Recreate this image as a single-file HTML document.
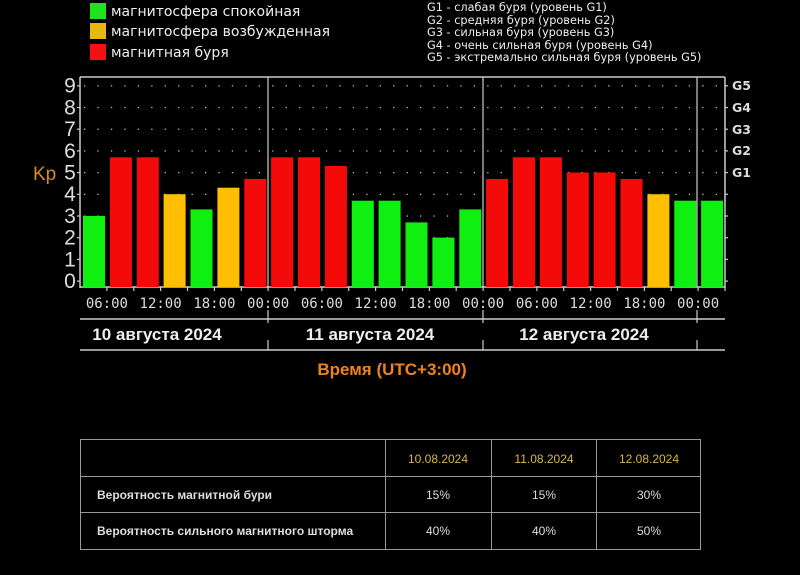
<!DOCTYPE html>
<html><head><meta charset="utf-8"><style>
html,body{margin:0;padding:0;background:#000;width:800px;height:575px;overflow:hidden}
svg{display:block}
</style></head><body>
<svg width="800" height="575" xmlns="http://www.w3.org/2000/svg" font-family="Liberation Sans, DejaVu Sans, sans-serif">
<rect width="800" height="575" fill="#000"/>
<!-- legend -->
<rect x="90" y="3" width="16" height="16" fill="#1ee41e"/>
<rect x="90" y="23" width="16" height="16" fill="#e8b90c"/>
<rect x="90" y="44" width="16" height="16" fill="#f21010"/>
<g fill="#eee" font-size="14" font-family="DejaVu Sans, sans-serif">
<text x="111" y="16">магнитосфера спокойная</text>
<text x="111" y="36">магнитосфера возбужденная</text>
<text x="111" y="57">магнитная буря</text>
</g>
<g fill="#eee" font-size="11.3" font-family="DejaVu Sans, sans-serif">
<text x="427" y="11">G1 - слабая буря (уровень G1)</text>
<text x="427" y="24">G2 - средняя буря (уровень G2)</text>
<text x="427" y="36">G3 - сильная буря (уровень G3)</text>
<text x="427" y="49">G4 - очень сильная буря (уровень G4)</text>
<text x="427" y="61">G5 - экстремально сильная буря (уровень G5)</text>
</g>
<!-- plot frame -->
<line x1="80" y1="77" x2="725" y2="77" stroke="#ccc" stroke-width="1.5"/>
<line x1="80" y1="77" x2="80" y2="288" stroke="#ccc" stroke-width="1.5"/>
<line x1="725" y1="77" x2="725" y2="288" stroke="#ccc" stroke-width="1.5"/>
<line x1="80" y1="287" x2="725" y2="287" stroke="#ccc" stroke-width="1.5"/>
<line x1="268" y1="77" x2="268" y2="287" stroke="#ccc" stroke-width="1.2"/>
<line x1="483" y1="77" x2="483" y2="287" stroke="#ccc" stroke-width="1.2"/>
<line x1="697" y1="77" x2="697" y2="287" stroke="#ccc" stroke-width="1.2"/>
<g id="dots" fill="#bbb"></g>
<g id="bars"></g>
<g id="yl" fill="#ddd" font-size="21" text-anchor="middle"></g>
<text x="33" y="180" fill="#d98a1e" font-size="19">Kp</text>
<g fill="#ddd" font-size="12.5" font-weight="bold" font-family="DejaVu Sans, sans-serif">
<text x="732" y="90">G5</text><text x="732" y="112">G4</text><text x="732" y="134">G3</text><text x="732" y="155">G2</text><text x="732" y="177">G1</text>
</g>
<g id="xt" fill="#ddd" font-size="14" font-family="DejaVu Sans Mono, monospace" text-anchor="middle"></g>
<!-- date row -->
<line x1="80" y1="319" x2="725" y2="319" stroke="#ccc" stroke-width="1.5"/>
<line x1="80" y1="350" x2="725" y2="350" stroke="#ccc" stroke-width="1.5"/>
<g stroke="#ccc" stroke-width="1.2">
<line x1="268" y1="310" x2="268" y2="323"/><line x1="268" y1="340" x2="268" y2="350"/>
<line x1="483" y1="310" x2="483" y2="323"/><line x1="483" y1="340" x2="483" y2="350"/>
<line x1="697" y1="310" x2="697" y2="323"/><line x1="697" y1="340" x2="697" y2="350"/>
</g>
<g fill="#eee" font-size="17" font-weight="bold" text-anchor="middle">
<text x="157" y="340">10 августа 2024</text>
<text x="370" y="340">11 августа 2024</text>
<text x="584" y="340">12 августа 2024</text>
</g>
<text x="392" y="375" fill="#f0821e" font-size="17" font-weight="bold" text-anchor="middle">Время (UTC+3:00)</text>
<!-- table -->
<g stroke="#999" stroke-width="1" fill="none">
<rect x="80.5" y="439.5" width="620" height="110"/>
<line x1="80" y1="476.5" x2="701" y2="476.5"/>
<line x1="80" y1="512.5" x2="701" y2="512.5"/>
<line x1="385.5" y1="439" x2="385.5" y2="550"/>
<line x1="491.5" y1="439" x2="491.5" y2="550"/>
<line x1="596.5" y1="439" x2="596.5" y2="550"/>
</g>
<g font-size="12" text-anchor="middle" fill="#d8b54a">
<text x="438" y="463">10.08.2024</text><text x="544" y="463">11.08.2024</text><text x="649" y="463">12.08.2024</text>
</g>
<g font-size="12" text-anchor="middle" fill="#ddd">
<text x="438" y="499">15%</text><text x="544" y="499">15%</text><text x="649" y="499">30%</text>
<text x="438" y="535">40%</text><text x="544" y="535">40%</text><text x="649" y="535">50%</text>
</g>
<g font-size="12" font-weight="bold" fill="#ddd">
<text x="97" y="499">Вероятность магнитной бури</text>
<text x="97" y="535">Вероятность сильного магнитного шторма</text>
</g>
</svg>
<script>
const NS="http://www.w3.org/2000/svg";
function el(p,t,a,txt){const e=document.createElementNS(NS,t);for(const k in a)e.setAttribute(k,a[k]);if(txt!==undefined)e.textContent=txt;document.getElementById(p).appendChild(e);return e;}
const vals=[3.0,5.7,5.7,4.0,3.3,4.3,4.7, 5.7,5.7,5.3,3.7,3.7,2.7,2.0,3.3, 4.7,5.7,5.7,5.0,5.0,4.7,4.0,3.7,3.7];
const slot=26.875, y0=281, u=21.7;
function col(v){return v>=4.5?"#f50a0a":(v>=4?"#ffbf00":"#10f010");}
for(let k=1;k<=9;k++){const y=y0-k*u;for(let x=84;x<722;x+=13.44){el("dots","rect",{x:x.toFixed(1),y:(y-0.5).toFixed(1),width:1.3,height:1.3});}}
vals.forEach((v,i)=>{const x=80+slot*i+3;const top=y0-v*u;el("bars","rect",{x:x.toFixed(1),y:top.toFixed(1),width:22,height:(287-top).toFixed(1),fill:col(v)});});
for(let k=0;k<=9;k++){el("yl","text",{x:70,y:(y0-k*u+7).toFixed(1)},String(k));
 el("yl","rect",{x:77,y:(y0-k*u-0.5).toFixed(1),width:3,height:1.2,fill:"#ccc"});
 el("yl","rect",{x:725,y:(y0-k*u-0.5).toFixed(1),width:3,height:1.2,fill:"#ccc"});}
const lab=["06:00","12:00","18:00","00:00"];
for(let i=1;i<=24;i++){const x=80+slot*i;el("xt","rect",{x:(x-0.6).toFixed(1),y:287,width:1.2,height:4,fill:"#ccc"});
 if(i%2==1){const idx=((i-1)/2)%4;el("xt","text",{x:x.toFixed(1),y:308},lab[idx]);}}
</script>
</body></html>
